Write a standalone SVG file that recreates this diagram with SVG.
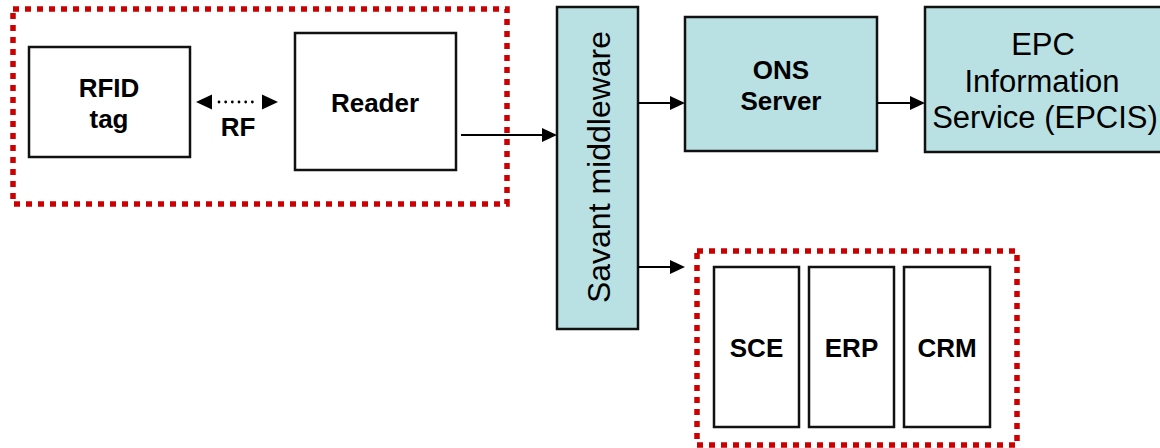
<svg xmlns="http://www.w3.org/2000/svg" width="1160" height="448" viewBox="0 0 1160 448">
  <style>
    .box { fill: #ffffff; stroke: #111111; stroke-width: 2.5; }
    .svc { fill: #b9e0e2; stroke: #111111; stroke-width: 2.5; }
    .group { fill: none; stroke: #cc0000; stroke-width: 5.5; stroke-dasharray: 6 6; }
    .lbl { font-family: "Liberation Sans", Arial, sans-serif; font-weight: bold; font-size: 26px; fill: #000000; text-anchor: middle; }
    .big { font-family: "Liberation Sans", Arial, sans-serif; font-size: 31px; fill: #000000; text-anchor: middle; }
    .link { fill: none; stroke: #000000; stroke-width: 2; }
    .dots { fill: none; stroke: #000000; stroke-width: 2.8; stroke-linecap: round; stroke-dasharray: 0 6.67; }
  </style>
  <defs>
    <marker id="head" markerUnits="userSpaceOnUse" markerWidth="15" markerHeight="14" refX="9" refY="7" orient="auto">
      <path d="M0,0 L15,7 L0,14 z" fill="#000000"/>
    </marker>
  </defs>

  <!-- dotted groupings -->
  <rect class="group" x="13" y="9" width="494" height="195"/>
  <rect class="group" x="697" y="251" width="320" height="194"/>

  <g id="rfid-tag">
    <rect class="box" x="29" y="47" width="161" height="110"/>
    <text class="lbl" x="109" y="97">RFID</text>
    <text class="lbl" x="109" y="128">tag</text>
  </g>

  <g id="reader">
    <rect class="box" x="295" y="33" width="161" height="137"/>
    <text class="lbl" x="375" y="112">Reader</text>
  </g>

  <g id="savant">
    <rect class="svc" x="557" y="7" width="81" height="322"/>
    <text font-family="Liberation Sans, Arial, sans-serif" font-size="32" text-anchor="middle" transform="translate(610 167) rotate(-90)">Savant middleware</text>
  </g>

  <g id="ons">
    <rect class="svc" x="685" y="17" width="192" height="134"/>
    <text class="lbl" x="781" y="79">ONS</text>
    <text class="lbl" x="781" y="110">Server</text>
  </g>

  <g id="epcis">
    <rect class="svc" x="925" y="7" width="240" height="145"/>
    <text class="big" x="1043" y="55">EPC</text>
    <text class="big" x="1042" y="92">Information</text>
    <text class="big" x="1045" y="128">Service (EPCIS)</text>
  </g>

  <g id="sce">
    <rect class="box" x="714" y="267" width="85" height="160"/>
    <text class="lbl" x="756.5" y="357">SCE</text>
  </g>
  <g id="erp">
    <rect class="box" x="809" y="267" width="85" height="160"/>
    <text class="lbl" x="851.5" y="357">ERP</text>
  </g>
  <g id="crm">
    <rect class="box" x="904" y="267" width="86" height="160"/>
    <text class="lbl" x="947" y="357">CRM</text>
  </g>

  <g id="connectors">
    <!-- RF link: dotted with heads on both ends -->
    <line class="dots" x1="219" y1="102" x2="259" y2="102"/>
    <path d="M196,102 L212,94.5 L212,109.5 z" fill="#000000"/>
    <path d="M278,102 L262,94.5 L262,109.5 z" fill="#000000"/>
    <text class="lbl" x="238" y="136">RF</text>

    <line class="link" x1="461" y1="135" x2="551" y2="135" marker-end="url(#head)"/>
    <line class="link" x1="638" y1="103" x2="679" y2="103" marker-end="url(#head)"/>
    <line class="link" x1="877" y1="103" x2="919" y2="103" marker-end="url(#head)"/>
    <line class="link" x1="638" y1="267" x2="679" y2="267" marker-end="url(#head)"/>
  </g>
</svg>
